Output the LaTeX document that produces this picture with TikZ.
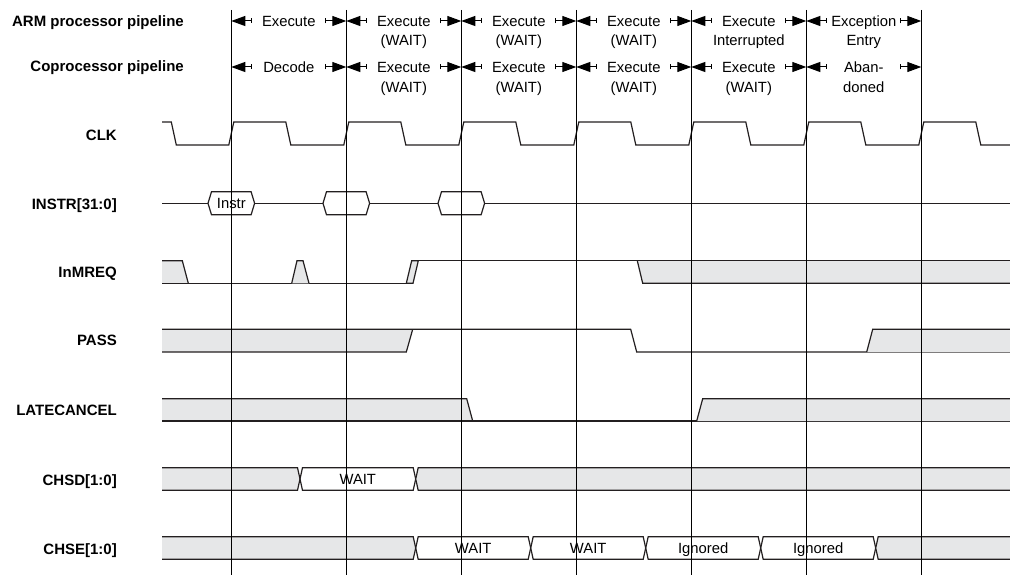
\documentclass[tikz,border=0pt]{standalone}
\usepackage{fontspec}
\setmainfont{Liberation Sans}
\usetikzlibrary{arrows.meta,calc}
\definecolor{sigfill}{HTML}{E6E7E8}
\definecolor{ink}{HTML}{231F20}
\begin{document}
\begin{tikzpicture}[x=1pt,y=-1pt,
  sig/.style={draw=ink,line width=1.2pt,line join=miter},
  gridline/.style={draw=black,line width=1.1pt},
  lbl/.style={font=\fontsize{15}{17}\selectfont\bfseries,anchor=base east,inner sep=0pt},
  txt/.style={font=\fontsize{14.8}{17}\selectfont,anchor=base,inner sep=0pt},
  harrow/.style={draw=black,line width=1pt,arrows={Bar[width=5pt]-Triangle[length=14pt,width=10pt]}}]
\useasboundingbox (0,0) rectangle (1010,575);

% ---------- labels ----------
\node[lbl] (arm) at (184,26.3) {ARM processor pipeline};
\node[lbl] (cop) at (184,71.3) {Coprocessor pipeline};
\node[lbl] (lclk) at (117,141) {CLK};
\node[lbl] (linstr) at (117,209.2) {INSTR[31:0]};
\node[lbl] (lmreq) at (117,277.7) {InMREQ};
\node[lbl] (lpass) at (117,345.7) {PASS};
\node[lbl] (llate) at (117,415.2) {LATECANCEL};
\node[lbl] (lchsd) at (117,485) {CHSD[1:0]};
\node[lbl] (lchse) at (117,554.5) {CHSE[1:0]};

% ---------- grid coordinates ----------
\foreach \k in {0,...,6} {
  \coordinate (v\k) at ({231.3+115*\k},10);
  \coordinate (b\k) at ({231.3+115*\k},575);
}
\coordinate (rowA) at (0,21);
\coordinate (rowB) at (0,67);

% ---------- header cells ----------
\node[txt] (a0) at (288.8,26.3) {Execute};
\node[txt] (a1) at (403.8,26.3) {Execute};
\node[txt] (a1b) at (403.8,46) {(WAIT)};
\node[txt] (a2) at (518.8,26.3) {Execute};
\node[txt] (a2b) at (518.8,46) {(WAIT)};
\node[txt] (a3) at (633.8,26.3) {Execute};
\node[txt] (a3b) at (633.8,46) {(WAIT)};
\node[txt] (a4) at (748.8,26.3) {Execute};
\node[txt] (a4b) at (748.8,46) {Interrupted};
\node[txt] (a5) at (863.8,26.3) {Exception};
\node[txt] (a5b) at (863.8,46) {Entry};

\node[txt] (c0) at (288.8,72.3) {Decode};
\node[txt] (c1) at (403.8,72.3) {Execute};
\node[txt] (c1b) at (403.8,92.5) {(WAIT)};
\node[txt] (c2) at (518.8,72.3) {Execute};
\node[txt] (c2b) at (518.8,92.5) {(WAIT)};
\node[txt] (c3) at (633.8,72.3) {Execute};
\node[txt] (c3b) at (633.8,92.5) {(WAIT)};
\node[txt] (c4) at (748.8,72.3) {Execute};
\node[txt] (c4b) at (748.8,92.5) {(WAIT)};
\node[txt] (c5) at (863.8,72.3) {Aban-};
\node[txt] (c5b) at (863.8,92.5) {doned};

\foreach \k [evaluate=\k as \kk using int(\k+1)] in {0,...,5} {
  \draw[harrow] ($(v\k |- rowA)+(21,0)$) -- (v\k |- rowA);
  \draw[harrow] ($(v\kk |- rowA)+(-21,0)$) -- (v\kk |- rowA);
  \draw[harrow] ($(v\k |- rowB)+(21,0)$) -- (v\k |- rowB);
  \draw[harrow] ($(v\kk |- rowB)+(-21,0)$) -- (v\kk |- rowB);
}

% ---------- CLK ----------
\draw[sig] (162,122) -- (171.3,122) -- (176.3,145)
  \foreach \k in {0,...,6} { -- ({228.8+115*\k},145) -- ({233.8+115*\k},122) -- ({285.8+115*\k},122) -- ({290.8+115*\k},145) }
  -- (1010,145);

% ---------- INSTR ----------
\draw[sig] (162,203.3) -- (1010,203.3);
\foreach \k in {0,1,2} {
  \filldraw[sig,fill=white] ({231.3+115*\k-23.3},203.3) -- ({231.3+115*\k-19.8},191.7) -- ({231.3+115*\k+19.8},191.7)
    -- ({231.3+115*\k+23.3},203.3) -- ({231.3+115*\k+19.8},214.8) -- ({231.3+115*\k-19.8},214.8) -- cycle;
}
\node[txt] (instr) at (231.3,208.5) {Instr};

% ---------- InMREQ ----------
\fill[sigfill] (162,260.7) -- (182.3,260.7) -- (188.3,283.3) -- (162,283.3) -- cycle;
\draw[sig] (162,260.7) -- (182.3,260.7) -- (188.3,283.3);
\draw[sig] (162,283.3) -- (406.3,283.3);
\filldraw[sig,fill=sigfill] (291.7,283.3) -- (297,260.7) -- (303,260.7) -- (309,283.3);
\filldraw[sig,fill=sigfill] (406.3,283.3) -- (411.7,260.7) -- (418.3,260.7) -- (413,283.3) -- cycle;
\fill[sigfill] (637.3,260.7) -- (1010,260.7) -- (1010,283.3) -- (642.7,283.3) -- cycle;
\draw[sig] (411.7,260.7) -- (1010,260.7);
\draw[sig] (637.3,260.7) -- (642.7,283.3) -- (1010,283.3);

% ---------- PASS ----------
\fill[sigfill] (162,329.3) -- (412.7,329.3) -- (406.3,352) -- (162,352) -- cycle;
\draw[sig] (162,352) -- (406.3,352) -- (412.7,329.3);
\draw[sig] (162,329.3) -- (630.7,329.3) -- (636.7,352) -- (1010,352);
\fill[sigfill] (872.7,329.3) -- (1010,329.3) -- (1010,352) -- (866.7,352) -- cycle;
\draw[sig] (866.7,352) -- (872.7,329.3) -- (1010,329.3);

% ---------- LATECANCEL ----------
\fill[sigfill] (162,398.7) -- (466.7,398.7) -- (472.7,421) -- (162,421) -- cycle;
\draw[sig] (162,398.7) -- (466.7,398.7) -- (472.7,421);
\draw[sig] (162,421) -- (1010,421);
\fill[sigfill] (702.7,398.7) -- (1010,398.7) -- (1010,421) -- (696.7,421) -- cycle;
\draw[sig] (696.7,421) -- (702.7,398.7) -- (1010,398.7);

% ---------- CHSD ----------
\fill[sigfill] (162,467.7) -- (297.5,467.7) -- (300,479) -- (297.5,490.3) -- (162,490.3) -- cycle;
\draw[sig] (162,467.7) -- (297.5,467.7) -- (300,479) -- (297.5,490.3) -- (162,490.3);
\draw[sig] (300,479) -- (302.5,467.7) -- (413.2,467.7) -- (415.7,479) -- (413.2,490.3) -- (302.5,490.3) -- cycle;
\fill[sigfill] (1010,467.7) -- (418.2,467.7) -- (415.7,479) -- (418.2,490.3) -- (1010,490.3) -- cycle;
\draw[sig] (1010,467.7) -- (418.2,467.7) -- (415.7,479) -- (418.2,490.3) -- (1010,490.3);
\node[txt] (dwait) at (357.8,484.3) {WAIT};

% ---------- CHSE ----------
\fill[sigfill] (162,536.7) -- (413.2,536.7) -- (415.7,548) -- (413.2,559.3) -- (162,559.3) -- cycle;
\draw[sig] (162,536.7) -- (413.2,536.7) -- (415.7,548) -- (413.2,559.3) -- (162,559.3);
\foreach \a/\b/\t [count=\i] in {415.7/530.7/WAIT, 530.7/645.7/WAIT, 645.7/760.7/Ignored, 760.7/875.7/Ignored} {
  \draw[sig] (\a,548) -- ({\a+2.5},536.7) -- ({\b-2.5},536.7) -- (\b,548) -- ({\b-2.5},559.3) -- ({\a+2.5},559.3) -- cycle;
  \node[txt] (ce\i) at ({(\a+\b)/2},553.3) {\t};
}
\fill[sigfill] (1010,536.7) -- (878.2,536.7) -- (875.7,548) -- (878.2,559.3) -- (1010,559.3) -- cycle;
\draw[sig] (1010,536.7) -- (878.2,536.7) -- (875.7,548) -- (878.2,559.3) -- (1010,559.3);

% ---------- vertical grid lines ----------
\foreach \k in {0,...,6} {
  \draw[gridline] (v\k) -- (b\k);
}
\end{tikzpicture}
\end{document}
